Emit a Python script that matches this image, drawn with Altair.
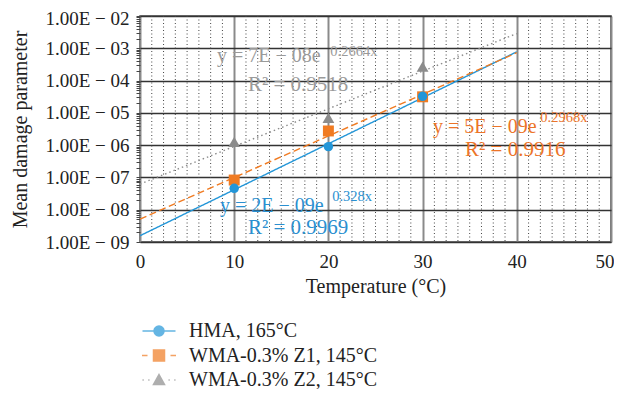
import math
import altair as alt
import pandas as pd

# ---------------- data ----------------
series_names = ["HMA, 165°C", "WMA-0.3% Z1, 145°C", "WMA-0.3% Z2, 145°C"]
temps = [10, 20, 30]
hma = [4.6e-8, 9.0e-7, 3.25e-5]
z1 = [8.3e-8, 2.75e-6, 3.14e-5]
z2 = [1.26e-6, 7.0e-6, 2.7e-4]
markers = ["circle", "square", "triangle-up"]
marker_sizes = [90, 120, 140]
colors = ["#2396d8", "#f07b22", "#8c8c8c"]
text_colors = ["#2a8fd0", "#ec7428", "#9a9a9a"]

x_ticks = [0, 10, 20, 30, 40, 50]
y_major = [1e-9, 1e-8, 1e-7, 1e-6, 1e-5, 1e-4, 1e-3, 1e-2]
y_minor = [k * 10.0 ** n for n in range(-9, -2) for k in range(2, 10)]
x_minor = [i * 1.25 for i in range(1, 40) if i % 8]

# annotations (trendline equations)
ann_series = [series_names[0]] * 3 + [series_names[1]] * 3 + [series_names[2]] * 3
ann_text = ["y = 2E − 09e", "0.328x", "R² = 0.9969",
            "y = 5E − 09e", "0.2968x", "R² = 0.9916",
            "y = 7E − 08e", "0.2664x", "R² = 0.9518"]
ann_x = [8.49, 20.4, 11.46, 31.1, 42.5, 34.5, 8.17, 20.2, 11.46]
ann_y = [1.31e-8, 2.48e-8, 2.72e-9, 3.65e-6, 6.93e-6, 7.08e-7, 5.77e-4, 7.67e-4, 7.3e-5]
ann_size = [20, 14.5, 21, 20, 14.5, 21, 20, 14.5, 21]

# ---------------- tables ----------------
rows = []
for name, vals in zip(series_names, [hma, z1, z2]):
    for t, v in zip(temps, vals):
        rows.append({"series": name, "x": t, "y": v})
points_df = pd.DataFrame(rows)
grid_df = pd.DataFrame({"gx": x_minor})
ann_df = pd.DataFrame({"series": ann_series, "text": ann_text, "x": ann_x,
                       "y": ann_y, "fs": ann_size})
# legend entries (trailing space keeps the legend's domain separate from the plot's)
legend_names = [s + " " for s in series_names]
legend_df = pd.DataFrame({"lg": legend_names, "x": [0, 0, 0], "y": [1e-9, 1e-9, 1e-9]})

FONT = "Liberation Serif"
is_major = "abs(log(datum.value)/LN10 - round(log(datum.value)/LN10)) < 1e-6"

x_scale = alt.Scale(domain=[0, 50], nice=False, zero=False)
y_scale = alt.Scale(type="log", domain=[1e-9, 1e-2], nice=False)

x_axis = alt.Axis(values=x_ticks, grid=True, gridColor="#8a8a8a", gridWidth=2,
                  tickSize=0, domain=False, labelFont=FONT, labelFontSize=19,
                  labelColor="#222", labelPadding=10,
                  labelAlign={"condition": {"test": "datum.value == 50", "value": "right"},
                              "value": "center"},
                  labelOffset={"condition": {"test": "datum.value == 50", "value": 3},
                               "value": 0},
                  labelFlush=False,
                  title="Temperature (°C)",
                  titleFont=FONT, titleFontSize=20, titleFontWeight="normal",
                  titleColor="#222", titlePadding=5)
y_axis = alt.Axis(values=y_major + y_minor, grid=True, gridColor="#333", gridWidth=1.3,
                  gridOpacity={"condition": {"test": is_major, "value": 1}, "value": 0},
                  tickSize=4, tickColor="#444", domain=False, labelFont=FONT,
                  labelFontSize=19, labelColor="#222", labelPadding=7, labelOverlap=False,
                  labelOffset={"condition": {"test": "datum.value > 0.005", "value": 2},
                               "value": 0},
                  labelExpr=is_major + " ? '1.00E − 0' + (-round(log(datum.value)/LN10)) : ''",
                  title="Mean damage parameter", titleFont=FONT, titleFontSize=20,
                  titleFontWeight="normal", titleColor="#222", titlePadding=14)

X = alt.X("x:Q", scale=x_scale, axis=x_axis)
Y = alt.Y("y:Q", scale=y_scale, axis=y_axis)

color_scale = alt.Scale(domain=series_names, range=colors)
text_scale = alt.Scale(domain=series_names, range=text_colors)

grid = alt.Chart(grid_df).mark_rule(color="#444", strokeDash=[1, 2.5], strokeWidth=1).encode(
    x=alt.X("gx:Q", scale=x_scale, axis=x_axis))

lines = alt.Chart(points_df).transform_calculate(
    ly="log(datum.y)"
).transform_regression(
    "x", "ly", method="linear", extent=[0, 40], groupby=["series"]
).transform_calculate(
    y="exp(datum.ly)"
).mark_line(strokeWidth=1.4).encode(
    x=X, y=Y,
    color=alt.Color("series:N", scale=color_scale, legend=None),
    strokeDash=alt.StrokeDash("series:N", scale=alt.Scale(domain=series_names,
                              range=[[1, 0], [7, 3.5], [1.5, 3]]), legend=None),
)

point_layers = []
for i in [2, 1, 0]:
    point_layers.append(
        alt.Chart(points_df).transform_filter(
            alt.datum.series == series_names[i]
        ).mark_point(filled=True, shape=markers[i], size=marker_sizes[i], opacity=1).encode(
            x=X, y=Y,
            color=alt.Color("series:N", scale=color_scale, legend=None),
        )
    )

labels = alt.Chart(ann_df).mark_text(align="left", baseline="middle", font=FONT).encode(
    x=X, y=Y, text="text:N",
    fill=alt.Fill("series:N", scale=text_scale, legend=None),
    size=alt.Size("fs:Q", scale=None),
)


# legend symbols: line stubs plus a marker drawn as dense strokes (looks filled)
def hatch(half_width, y0, y1, step):
    parts = []
    n = int(round((y1 - y0) / step))
    for k in range(n + 1):
        yy = y0 + k * step
        h = half_width(yy)
        if h > 0.02:
            parts.append(f"M{-h:.3f},{yy:.3f}H{h:.3f}")
    return "".join(parts)


circle_path = ("M-3.3,0H3.3M-1,0A1,1 0 1,0 1,0A1,1 0 1,0 -1,0"
               + hatch(lambda v: math.sqrt(max(0.0, 1 - v * v)), -0.9, 0.9, 0.3))
square_path = ("M-3.4,0H-2.3M2.3,0H3.4M-1.1,-1.1H1.1V1.1H-1.1Z"
               + hatch(lambda v: 1.1, -1.1, 1.1, 0.275))
tri_path = ("M-3.3,0H-3.05M-2.15,0H-1.9M1.9,0H2.15M3.05,0H3.3M0,-1.1L1.1,0.9H-1.1Z"
            + hatch(lambda v: 1.1 * (v + 1.1) / 2.0, -0.8, 0.9, 0.28))
legend_paths = [circle_path, square_path, tri_path]

leg = alt.Legend(title=None, orient="none", legendX=9, legendY=305)
legend_layer = alt.Chart(legend_df).mark_point(filled=False, size=0).encode(
    x=X, y=Y,
    stroke=alt.Stroke("lg:N", scale=alt.Scale(domain=legend_names, range=colors), legend=leg),
    shape=alt.Shape("lg:N", scale=alt.Scale(domain=legend_names, range=legend_paths), legend=leg),
)

chart = alt.layer(grid, lines, *point_layers, labels, legend_layer).properties(
    width=471, height=226,
    autosize=alt.AutoSizeParams(type="none"),
    padding={"left": 132, "top": 8, "right": 3, "bottom": 147},
).configure_view(
    stroke="#444", strokeWidth=1.5
).configure_legend(
    symbolSize=100, symbolStrokeWidth=1.5, labelFont=FONT, labelFontSize=20,
    labelColor="#222", labelOffset=20, rowPadding=4.5, labelLimit=400,
)

chart.save("out.html", embed_options={"renderer": "svg", "actions": False})
